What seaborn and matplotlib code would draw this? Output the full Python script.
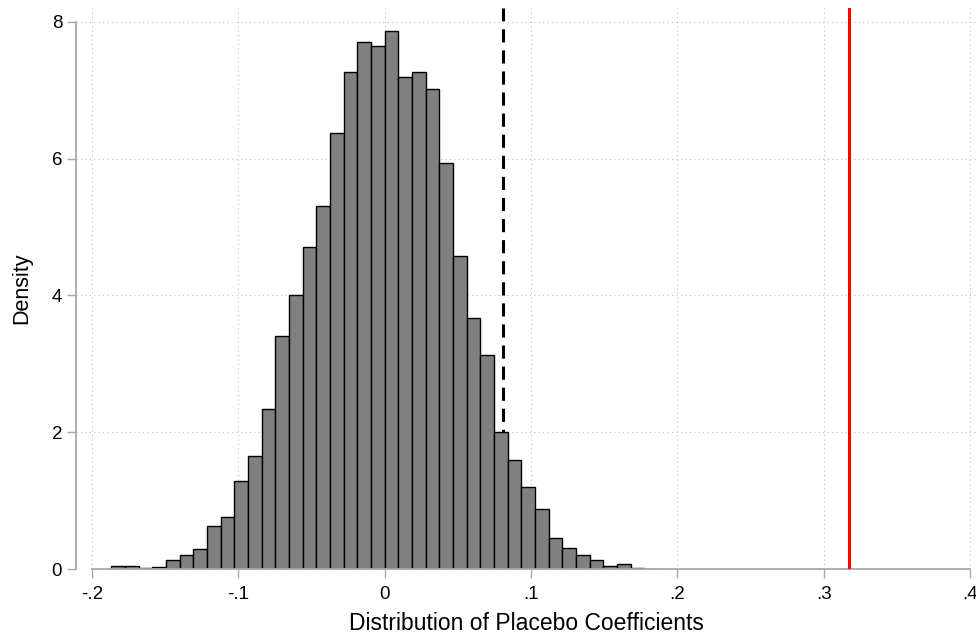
import numpy as np
import pandas as pd
import seaborn as sns
import matplotlib.pyplot as plt
from matplotlib.ticker import FuncFormatter

# histogram of placebo coefficients (density per bin)
bin_start = -0.1868
bin_width = 0.00934
density = [0.04, 0.04, 0.015, 0.025, 0.13, 0.20, 0.29, 0.63, 0.76, 1.29,
           1.65, 2.34, 3.40, 4.00, 4.70, 5.30, 6.38, 7.26, 7.70, 7.65,
           7.86, 7.19, 7.26, 7.01, 5.94, 4.57, 3.67, 3.13, 2.00, 1.59,
           1.20, 0.88, 0.45, 0.31, 0.21, 0.13, 0.04, 0.07, 0.02, 0.005]

# reference lines
placebo_cutoff = 0.0807
true_coef = 0.317

x_ticks = [-0.2, -0.1, 0.0, 0.1, 0.2, 0.3, 0.4]
y_ticks = [0, 2, 4, 6, 8]

edges = bin_start + bin_width * np.arange(len(density) + 1)
df = pd.DataFrame({"coef": (edges[:-1] + edges[1:]) / 2, "density": density})

sns.set_theme(style="white")
plt.rcParams["font.family"] = ["Liberation Sans", "DejaVu Sans"]

fig = plt.figure(figsize=(9.76, 6.38), dpi=100)
ax = fig.add_axes([0.0779, 0.108, 0.922, 0.8795])

sns.histplot(data=df, x="coef", weights="density", bins=list(edges), stat="count",
             color="#808080", alpha=1, edgecolor="black", linewidth=1.0,
             zorder=2, ax=ax)

# the dashed line sits behind the bars, the red one is clear of them
ax.axvline(placebo_cutoff, color="black", lw=2.2, dashes=(4.3, 2.6), zorder=1.5)
ax.axvline(true_coef, color="#ff0000", lw=2.2, zorder=3)

ax.set_xlim(-0.211, 0.404)
ax.set_ylim(0, 8.2)
ax.set_xticks(x_ticks)
ax.set_yticks(y_ticks)

def stata_fmt(v, pos):
    s = f"{v:.1f}".replace("0.", ".")
    if s in (".0", "-.0"):
        return "0"
    return s

ax.xaxis.set_major_formatter(FuncFormatter(stata_fmt))

ax.grid(True, linestyle=(0, (1, 3)), color="#c0c0c0", linewidth=0.8)
ax.set_axisbelow(True)

for side in ["top", "right"]:
    ax.spines[side].set_visible(False)
ax.spines["left"].set_bounds(0, 8)
ax.spines["bottom"].set_bounds(-0.2, 0.4)
for side in ["left", "bottom"]:
    ax.spines[side].set_color("#a8a8a8")
    ax.spines[side].set_linewidth(1.3)

ax.tick_params(axis="both", which="major", direction="out", length=6.5, width=1.0,
               color="#a8a8a8", labelsize=13.5, labelcolor="black",
               bottom=True, left=True)
ax.tick_params(axis="x", pad=6)
ax.tick_params(axis="y", pad=3.5)

ax.set_xlabel("Distribution of Placebo Coefficients", fontsize=16.5, labelpad=6,
              color="black")
ax.set_ylabel("Density", fontsize=15.5, labelpad=14, color="black")

fig.savefig("out.png", dpi=100)
